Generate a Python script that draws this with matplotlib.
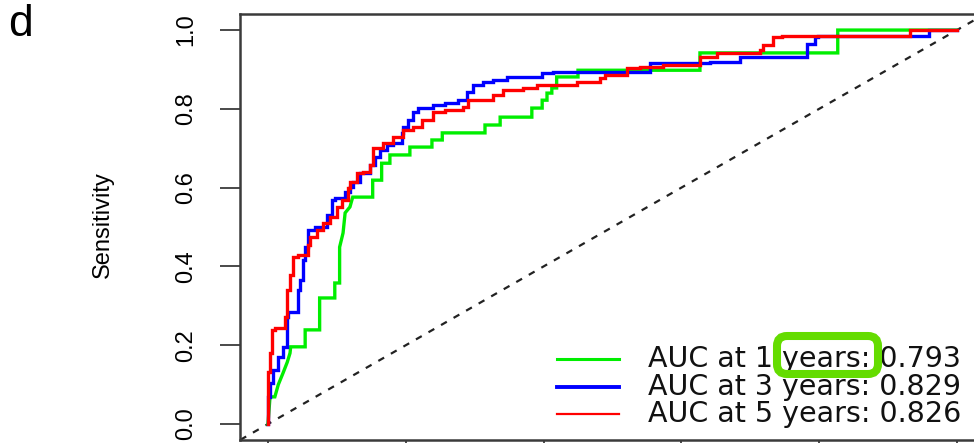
import matplotlib
matplotlib.use("Agg")
import matplotlib.pyplot as plt
from matplotlib.transforms import Affine2D
from matplotlib.patches import FancyBboxPatch

# ---------------- data ----------------
fpr_1y = [0, 0.003, 0.010, 0.015, 0.022, 0.028, 0.032, 0.033, 0.054, 0.054, 0.075, 0.075,
          0.097, 0.097, 0.104, 0.104, 0.109, 0.112, 0.119, 0.123, 0.152, 0.152, 0.165, 0.165,
          0.177, 0.177, 0.206, 0.206, 0.238, 0.238, 0.253, 0.253, 0.315, 0.315, 0.337, 0.337,
          0.383, 0.383, 0.398, 0.398, 0.405, 0.405, 0.412, 0.412, 0.419, 0.419, 0.450, 0.450,
          0.627, 0.627, 0.827, 0.827, 1.0]
tpr_1y = [0, 0.069, 0.069, 0.100, 0.130, 0.157, 0.180, 0.196, 0.196, 0.239, 0.239, 0.320,
          0.320, 0.358, 0.358, 0.449, 0.485, 0.536, 0.551, 0.576, 0.576, 0.619, 0.619, 0.662,
          0.662, 0.683, 0.683, 0.703, 0.703, 0.721, 0.721, 0.739, 0.739, 0.759, 0.759, 0.779,
          0.779, 0.802, 0.802, 0.822, 0.822, 0.840, 0.840, 0.853, 0.853, 0.881, 0.881, 0.898,
          0.898, 0.942, 0.942, 1.0, 1.0]

fpr_3y = [0, 0.003, 0.007, 0.015, 0.022, 0.028, 0.029, 0.044, 0.046, 0.051, 0.054, 0.058,
          0.068, 0.068, 0.086, 0.086, 0.093, 0.097, 0.112, 0.119, 0.123, 0.134, 0.148, 0.155,
          0.163, 0.173, 0.181, 0.194, 0.196, 0.203, 0.210, 0.218, 0.239, 0.257, 0.276, 0.289,
          0.298, 0.312, 0.327, 0.347, 0.398, 0.414, 0.554, 0.554, 0.641, 0.685, 0.685, 0.782,
          0.782, 0.794, 0.798, 0.960, 0.960, 1.0]
tpr_3y = [0, 0.069, 0.104, 0.137, 0.170, 0.196, 0.272, 0.284, 0.340, 0.365, 0.416, 0.449,
          0.492, 0.500, 0.500, 0.525, 0.530, 0.569, 0.574, 0.589, 0.602, 0.614, 0.637, 0.657,
          0.678, 0.695, 0.708, 0.713, 0.739, 0.754, 0.772, 0.792, 0.802, 0.810, 0.815, 0.822,
          0.843, 0.860, 0.868, 0.873, 0.881, 0.891, 0.893, 0.916, 0.916, 0.919, 0.931, 0.931,
          0.949, 0.964, 0.982, 0.985, 1.0, 1.0]

fpr_5y = [0, 0, 0.003, 0.006, 0.010, 0.025, 0.028, 0.032, 0.036, 0.044, 0.058, 0.061,
          0.071, 0.080, 0.090, 0.100, 0.107, 0.116, 0.119, 0.129, 0.138, 0.148, 0.152, 0.167,
          0.181, 0.196, 0.210, 0.224, 0.239, 0.257, 0.283, 0.290, 0.327, 0.341, 0.370, 0.390,
          0.448, 0.482, 0.489, 0.521, 0.540, 0.573, 0.627, 0.652, 0.714, 0.718, 0.733, 0.746,
          0.932, 0.932, 1.0]
tpr_5y = [0, 0.132, 0.132, 0.180, 0.239, 0.244, 0.272, 0.340, 0.378, 0.424, 0.429, 0.454,
          0.475, 0.492, 0.510, 0.525, 0.551, 0.569, 0.599, 0.614, 0.637, 0.640, 0.657, 0.701,
          0.713, 0.728, 0.746, 0.754, 0.772, 0.792, 0.797, 0.805, 0.822, 0.835, 0.848, 0.853,
          0.860, 0.868, 0.878, 0.886, 0.904, 0.906, 0.911, 0.931, 0.942, 0.949, 0.962, 0.982,
          0.985, 0.995, 1.0]

years = [1, 3, 5]
auc_values = [0.793, 0.829, 0.826]
series_colors = ["#00ee00", "#0000ff", "#ff0000"]
y_ticks = [0.0, 0.2, 0.4, 0.6, 0.8, 1.0]
x_ticks = [0.0, 0.2, 0.4, 0.6, 0.8, 1.0]

# ---------------- figure ----------------
W, H = 974, 443
fig = plt.figure(figsize=(W / 100, H / 100), dpi=100)
ax = fig.add_axes([240.4 / W, (H - 439.8) / H, 744.1 / W, 425.5 / H])
ax.set_xlim(-0.04, 1.04)
ax.set_ylim(-0.04, 1.04)

# pixel transform (origin top-left of figure)
pix = Affine2D().scale(1 / 100, -1 / 100).translate(0, H / 100) + fig.dpi_scale_trans

# diagonal reference
ax.axline((0, 0), (1, 1), color="#222222", lw=1.6, linestyle=(0, (3, 3.5)), zorder=1)

curves = [(fpr_1y, tpr_1y), (fpr_3y, tpr_3y), (fpr_5y, tpr_5y)]
styles = ["default", "steps-pre", "steps-pre"]
for (fx, ty), c, ds in zip(curves, series_colors, styles):
    ax.plot(fx, ty, color=c, lw=2.4, drawstyle=ds, solid_joinstyle="miter", zorder=3)

# axes styling
for s in ax.spines.values():
    s.set_color("#3a3a3a")
    s.set_linewidth(1.8)
ax.set_yticks(y_ticks)
ax.set_yticklabels([f"{v:.1f}" for v in y_ticks])
ax.set_xticks(x_ticks)
ax.tick_params(axis="y", direction="out", length=14.4, width=1.3, color="#3a3a3a",
               pad=17, labelsize=17, labelrotation=90)
ax.tick_params(axis="x", direction="out", length=14.4, width=1.3, color="#3a3a3a",
               labelbottom=False)
for lab in ax.get_yticklabels():
    lab.set_fontfamily("Liberation Sans")
    lab.set_va("center")

ax.set_ylabel("Sensitivity", fontsize=17, family="Liberation Sans", va="center")
ax.yaxis.set_label_coords((103 - 240.4) / 744.1, (439.8 - 225) / 425.5)

# panel letter
fig.text(21, 25, "d", transform=pix, fontsize=32, family="Liberation Sans",
         ha="center", va="center")

# legend (no frame), drawn manually to match row spacing
legend_lw = [2.2, 2.8, 1.6]
rows_px = [359, 387, 414]
for yr, auc, c, lw, ry in zip(years, auc_values, series_colors, legend_lw, rows_px):
    fig.add_artist(plt.Line2D([557, 619], [ry, ry], transform=pix, color=c, lw=lw))
    fig.text(648, ry + 8, f"AUC at {yr} years: {auc:.3f}", transform=pix,
             fontsize=20.5, family="DejaVu Sans", ha="left", va="baseline", color="#111111")

# highlight box around "years:"
box = FancyBboxPatch((777, 336), 101, 38, boxstyle="round,pad=0,rounding_size=10",
                     transform=pix, fill=False, edgecolor="#64dc00", lw=5.8, zorder=10)
fig.add_artist(box)

fig.savefig("out.png", dpi=100)
